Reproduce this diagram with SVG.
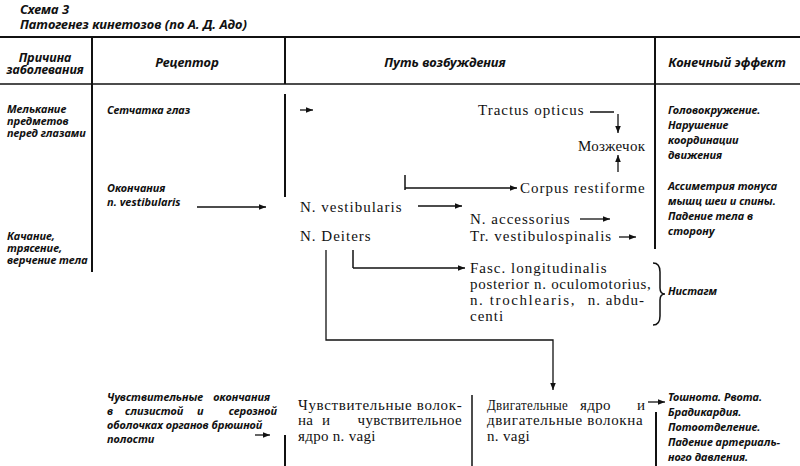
<svg xmlns="http://www.w3.org/2000/svg" width="800" height="466" viewBox="0 0 800 466">
<defs>
<marker id="ah" viewBox="0 0 10 10" refX="10" refY="5" markerWidth="7" markerHeight="7" markerUnits="userSpaceOnUse" orient="auto">
<path d="M0,1 L10,5 L0,9 Z" fill="#111"/>
</marker>
<style>
.t{font-family:"Noto Sans","Open Sans",sans-serif;font-weight:bold;font-style:italic;font-size:11px;fill:#111}
.h{font-family:"Noto Sans","Open Sans",sans-serif;font-weight:bold;font-style:italic;font-size:13px;fill:#111}
.s{font-family:"Liberation Serif","DejaVu Serif",serif;font-size:15px;letter-spacing:1px;fill:#111}
.c{letter-spacing:0.3px}
.l{stroke:#111;stroke-width:1.5;fill:none}
.g{stroke:#111;stroke-width:2;fill:none}
.a{stroke:#111;stroke-width:1.3;fill:none;marker-end:url(#ah)}
</style>
</defs>
<rect width="800" height="466" fill="#fff"/>
<g id="title">
<text class="h" x="20" y="14">Схема 3</text>
<text class="h" x="20" y="29">Патогенез кинетозов (по А. Д. Адо)</text>
</g>
<g id="grid">
<line class="g" x1="0" y1="37" x2="800" y2="37"/>
<line class="l" x1="0" y1="84" x2="800" y2="84"/>
<line class="g" x1="92" y1="38" x2="92" y2="272"/>
<line class="g" x1="285" y1="38" x2="285" y2="84"/>
<line class="g" x1="285" y1="94" x2="285" y2="197"/>
<line class="g" x1="285" y1="435" x2="285" y2="466"/>
<line class="g" x1="655" y1="38" x2="655" y2="249"/>
<line class="g" x1="656" y1="412" x2="656" y2="466"/>
<line class="l" x1="472" y1="395" x2="472" y2="466"/>
</g>
<g id="headers">
<text class="h" x="45" y="62" text-anchor="middle" style="font-size:12.5px">Причина</text>
<text class="h" x="45" y="74" text-anchor="middle" style="font-size:12.5px">заболевания</text>
<text class="h" x="187" y="67" text-anchor="middle">Рецептор</text>
<text class="h" x="445" y="67" text-anchor="middle">Путь возбуждения</text>
<text class="h" x="727" y="67" text-anchor="middle">Конечный эффект</text>
</g>
<g id="causes">
<text class="t" x="7" y="113">Мелькание</text>
<text class="t" x="7" y="125">предметов</text>
<text class="t" x="7" y="137">перед глазами</text>
<text class="t" x="7" y="240">Качание,</text>
<text class="t" x="7" y="252">трясение,</text>
<text class="t" x="7" y="264">верчение тела</text>
</g>
<g id="receptors">
<text class="t" x="107" y="114">Сетчатка глаз</text>
<text class="t" x="107" y="192">Окончания</text>
<text class="t" x="107" y="206">n. vestibularis</text>
<text class="t" x="107" y="401">Чувствительные</text>
<text class="t" x="270" y="401" text-anchor="end">окончания</text>
<text class="t" x="107" y="415">в</text>
<text class="t" x="125" y="415">слизистой</text>
<text class="t" x="197" y="415">и</text>
<text class="t" x="277" y="415" text-anchor="end">серозной</text>
<text class="t" x="107" y="429">оболочках органов брюшной</text>
<text class="t" x="107" y="443">полости</text>
</g>
<g id="path-nodes">
<text class="s" x="478" y="115">Tractus opticus</text>
<text class="s c" x="578" y="151">Мозжечок</text>
<text class="s" x="520" y="193">Corpus restiforme</text>
<text class="s" x="300" y="212">N. vestibularis</text>
<text class="s" x="300" y="241">N. Deiters</text>
<text class="s" x="470" y="224">N. accessorius</text>
<text class="s" x="470" y="241">Tr. vestibulospinalis</text>
<text class="s" x="470" y="273">Fasc. longitudinalis</text>
<text class="s" x="470" y="289" style="letter-spacing:0.7px">posterior n. oculomotorius,</text>
<text class="s" x="470" y="305" style="letter-spacing:1.6px">n. trochlearis,</text>
<text class="s" x="645" y="305" text-anchor="end">n. abdu-</text>
<text class="s" x="470" y="321">centi</text>
<text class="s c" x="298" y="410" textLength="164" lengthAdjust="spacing">Чувствительные волок-</text>
<text class="s c" x="298" y="425">на</text>
<text class="s c" x="322" y="425">и</text>
<text class="s c" x="462" y="425" text-anchor="end">чувствительное</text>
<text class="s c" x="298" y="441">ядро n. vagi</text>
<text class="s c" x="487" y="410" textLength="81" lengthAdjust="spacingAndGlyphs">Двигательные</text>
<text class="s c" x="580" y="410">ядро</text>
<text class="s c" x="637" y="410">и</text>
<text class="s c" x="487" y="425" textLength="156" lengthAdjust="spacing">двигательные волокна</text>
<text class="s c" x="487" y="441">n. vagi</text>
</g>
<g id="effects">
<text class="t" x="668" y="114">Головокружение.</text>
<text class="t" x="668" y="129">Нарушение</text>
<text class="t" x="668" y="144">координации</text>
<text class="t" x="668" y="159">движения</text>
<text class="t" x="668" y="190">Ассиметрия тонуса</text>
<text class="t" x="668" y="205">мышц шеи и спины.</text>
<text class="t" x="668" y="220">Падение тела в</text>
<text class="t" x="668" y="235">сторону</text>
<text class="t" x="668" y="295">Нистагм</text>
<text class="t" x="668" y="401">Тошнота. Рвота.</text>
<text class="t" x="668" y="416">Брадикардия.</text>
<text class="t" x="668" y="431">Потоотделение.</text>
<text class="t" x="668" y="446">Падение артериаль-</text>
<text class="t" x="668" y="461">ного давления.</text>
</g>
<g id="connectors">
<line class="a" x1="197" y1="207" x2="266" y2="207"/>
<line class="a" x1="300" y1="110" x2="313" y2="110"/>
<polyline class="l" points="590,112 614,112"/>
<line class="a" x1="618" y1="114" x2="618" y2="133"/>
<line class="a" x1="618" y1="172" x2="618" y2="155"/>
<line class="l" x1="405" y1="175" x2="405" y2="190"/>
<line class="a" x1="405" y1="188" x2="517" y2="188"/>
<line class="a" x1="418" y1="206" x2="462" y2="206"/>
<line class="a" x1="580" y1="219" x2="610" y2="219"/>
<line class="a" x1="619" y1="237" x2="636" y2="237"/>
<polyline class="l" points="353,250 353,268"/>
<line class="a" x1="353" y1="268" x2="465" y2="268"/>
<polyline class="a" points="326,250 326,340 553,340 553,390"/>
<line class="a" x1="255" y1="435" x2="270" y2="435"/>
<line class="a" x1="648" y1="402" x2="665" y2="402"/>
<path class="l" d="M653,263 Q660,263 660,272 L660,288 Q660,294 665,294 Q660,294 660,300 L660,316 Q660,325 653,325"/>
</g>
</svg>
